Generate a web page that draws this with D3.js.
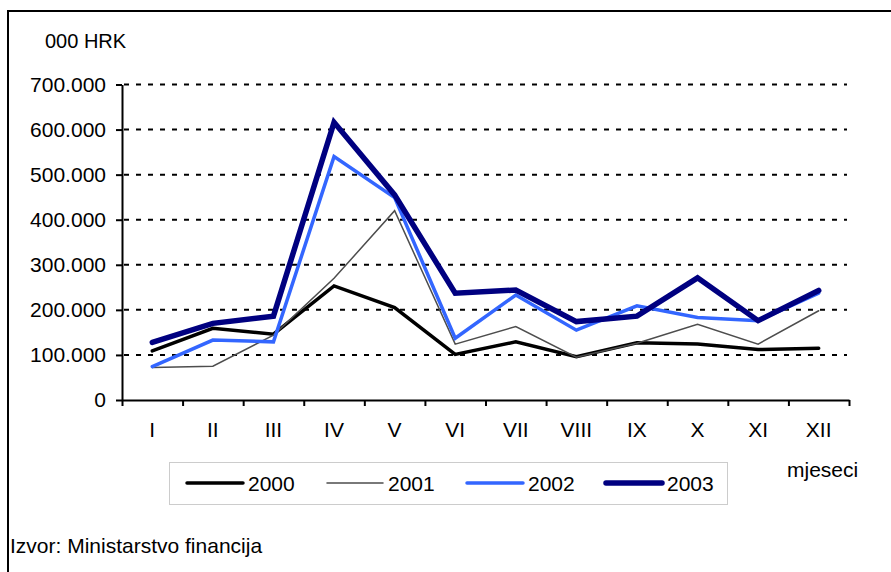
<!DOCTYPE html>
<html>
<head>
<meta charset="utf-8">
<script src="https://cdn.jsdelivr.net/npm/d3@7/dist/d3.min.js"></script>
<style>
  html, body { margin: 0; padding: 0; background: #fff; }
  svg { display: block; font-family: "Liberation Sans", Arial, sans-serif; }
</style>
</head>
<body>
<svg id="chart" width="891" height="572"></svg>
<script>
const months = ["I","II","III","IV","V","VI","VII","VIII","IX","X","XI","XII"];
const years = ["2000","2001","2002","2003"];
const v2000 = [109000,159000,146000,253000,205000,101000,129000,96000,127000,124000,112000,115000];
const v2001 = [72000,75000,144000,270000,420000,124000,163000,95000,126000,168000,124000,198000];
const v2002 = [74000,133000,129000,540000,449000,137000,233000,155000,209000,183000,176000,237000];
const v2003 = [128000,170000,186000,616000,455000,237000,244000,174000,186000,271000,176000,243000];
const yTicks = [0,100000,200000,300000,400000,500000,600000,700000];

const seriesValues = [v2000, v2001, v2002, v2003];
const colors = ["#000000", "#4d4d4d", "#3366ff", "#000080"];
const widths = [3.5, 1.5, 3.5, 5.5];

const svg = d3.select("#chart");
const pLeft = 122, pRight = 849, pTop = 84.5, pBottom = 400;
const fs = 21;

// outer frame
svg.append("rect").attr("x", 8).attr("y", 11).attr("width", 900).attr("height", 600)
  .attr("fill", "none").attr("stroke", "#000").attr("stroke-width", 2);

const x = d3.scaleBand().domain(months).range([pLeft, pRight]).padding(0);
const xEdge = d3.scaleLinear().domain([0, 12]).range([pLeft, pRight]);
const y = d3.scaleLinear().domain([0, 700000]).range([pBottom, pTop]);

// gridlines
svg.append("g").selectAll("line").data(yTicks.filter(d => d > 0)).join("line")
  .attr("x1", pLeft + 2).attr("x2", 847)
  .attr("y1", d => y(d)).attr("y2", d => y(d))
  .attr("stroke", "#000").attr("stroke-width", 2).attr("stroke-dasharray", "5,7");

// y axis
const fmt = d => d === 0 ? "0" : d3.format(",")(d).replace(/,/g, ".");
const ya = svg.append("g").attr("transform", `translate(${pLeft},0)`)
  .call(d3.axisLeft(y).tickValues(yTicks).tickSize(6).tickSizeOuter(0).tickFormat(fmt));
ya.select(".domain").attr("stroke", "#000").attr("stroke-width", 2);
ya.selectAll(".tick line").attr("stroke", "#000").attr("stroke-width", 2);
ya.selectAll(".tick text").attr("font-size", fs).attr("fill", "#000")
  .attr("font-family", "Liberation Sans, Arial, sans-serif").attr("x", -16).attr("dy", "0.33em");

// x axis ticks at band edges
const xa = svg.append("g").attr("transform", `translate(0,${pBottom})`)
  .call(d3.axisBottom(xEdge).tickValues(d3.range(13)).tickSize(6).tickSizeOuter(0).tickFormat(""));
xa.select(".domain").attr("stroke", "#000").attr("stroke-width", 2);
xa.selectAll(".tick line").attr("stroke", "#000").attr("stroke-width", 2);

// x labels
svg.append("g").selectAll("text").data(months).join("text")
  .attr("x", d => x(d) + x.bandwidth() / 2).attr("y", 437)
  .attr("text-anchor", "middle").attr("font-size", fs).attr("fill", "#000").text(d => d);

// lines
const line = d3.line().x((d, i) => x(months[i]) + x.bandwidth() / 2).y(d => y(d));
svg.append("g").selectAll("path").data(seriesValues).join("path")
  .attr("d", d => line(d)).attr("fill", "none")
  .attr("stroke", (d, i) => colors[i]).attr("stroke-width", (d, i) => widths[i])
  .attr("stroke-linejoin", "miter").attr("stroke-linecap", "round");

// texts
svg.append("text").attr("x", 45).attr("y", 48).attr("font-size", 20).attr("fill", "#000").text("000 HRK");
svg.append("text").attr("x", 787).attr("y", 477).attr("font-size", fs).attr("fill", "#000").text("mjeseci");
svg.append("text").attr("x", 10).attr("y", 553).attr("font-size", fs).attr("fill", "#000").text("Izvor: Ministarstvo financija");

// legend
svg.append("rect").attr("x", 169.5).attr("y", 462.5).attr("width", 558).attr("height", 42)
  .attr("fill", "#fff").attr("stroke", "#cccccc").attr("stroke-width", 1);
const legX = [187, 327, 467, 606];
const lg = svg.append("g").selectAll("g").data(years).join("g")
  .attr("transform", (d, i) => `translate(${legX[i]},483)`);
lg.append("line").attr("x1", 0).attr("x2", 56).attr("y1", 0).attr("y2", 0)
  .attr("stroke", (d, i) => colors[i]).attr("stroke-width", (d, i) => widths[i]).attr("stroke-linecap", "round");
lg.append("text").attr("x", 61).attr("y", 7.5).attr("font-size", fs).attr("fill", "#000").text(d => d);
</script>
</body>
</html>
